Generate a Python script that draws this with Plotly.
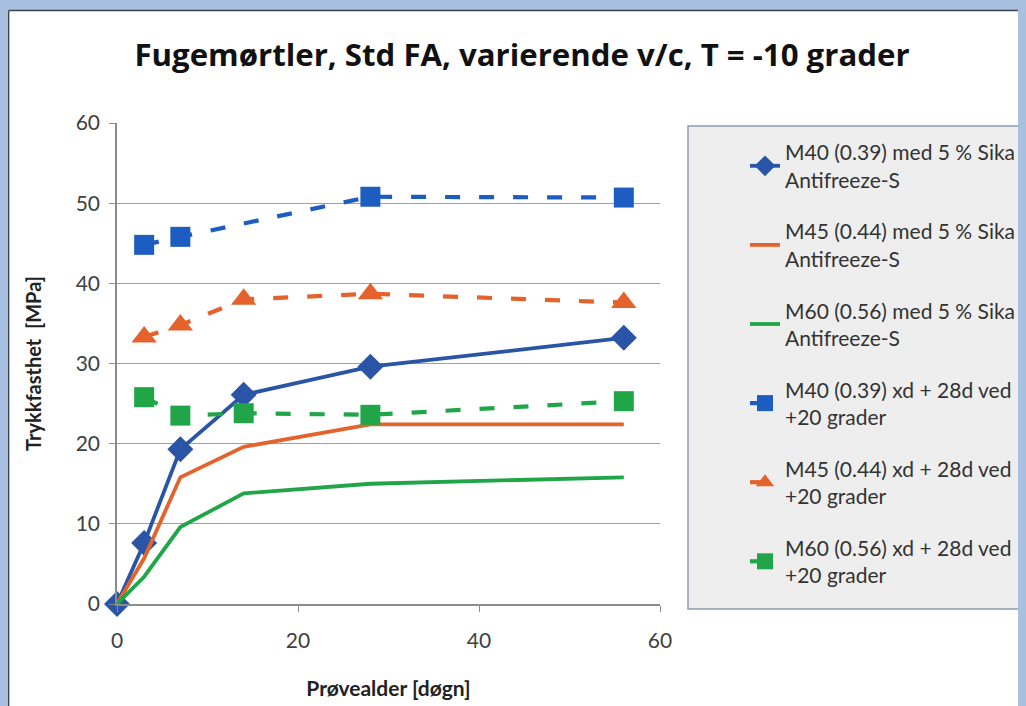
import plotly.graph_objects as go

# alder i døgn og trykkfasthet i MPa, lest av figuren
x_solid = [0, 3, 7, 14, 28, 56]
m40_sika = [0, 7.6, 19.3, 26.1, 29.6, 33.2]
m45_sika = [0, 5.7, 15.8, 19.6, 22.4, 22.4]
m60_sika = [0, 3.4, 9.6, 13.8, 15.0, 15.8]

x_m40_xd = [3, 7, 28, 56]
m40_xd = [44.8, 45.8, 50.8, 50.7]
x_xd = [3, 7, 14, 28, 56]
m45_xd = [33.3, 34.8, 38.0, 38.7, 37.6]
m60_xd = [25.8, 23.5, 23.8, 23.6, 25.3]

names = [
    "M40 (0.39) med 5 % Sika<br>Antifreeze-S",
    "M45 (0.44) med 5 % Sika<br>Antifreeze-S",
    "M60 (0.56) med 5 % Sika<br>Antifreeze-S",
    "M40 (0.39) xd + 28d ved<br>+20 grader",
    "M45 (0.44) xd + 28d ved<br>+20 grader",
    "M60 (0.56) xd + 28d ved<br>+20 grader",
]

BLUE = "#2a55a6"
BLUE2 = "#1d5cc0"
ORANGE = "#e4632c"
GREEN = "#20a548"
FRAME = "#a9bfe0"
FONT = "Lato"

# siden har 8 px marg i body, så alt er flyttet 8 px opp/venstre
OFF = 8
W, H = 1026, 706
L, R, T, B = 117 - OFF, W - 660 + OFF, 123 - OFF, H - 604 + OFF
pw, ph = W - L - R, H - T - B


def px(x):
    return (x - OFF - L) / pw


def py(y):
    return (H - B - (y - OFF)) / ph


fig = go.Figure()
dash = "15px,19px"
fig.add_trace(go.Scatter(x=x_solid, y=m40_sika, name=names[0], mode="lines+markers",
                         line=dict(color=BLUE, width=3.8),
                         marker=dict(symbol="diamond", size=20, color=BLUE)))
fig.add_trace(go.Scatter(x=x_solid, y=m45_sika, name=names[1], mode="lines",
                         line=dict(color=ORANGE, width=3.8)))
fig.add_trace(go.Scatter(x=x_solid, y=m60_sika, name=names[2], mode="lines",
                         line=dict(color=GREEN, width=3.8)))
fig.add_trace(go.Scatter(x=x_m40_xd, y=m40_xd, name=names[3], mode="lines+markers",
                         line=dict(color=BLUE2, width=4.2, dash=dash),
                         marker=dict(symbol="square", size=20, color=BLUE2)))
fig.add_trace(go.Scatter(x=x_xd, y=m45_xd, name=names[4], mode="lines+markers",
                         line=dict(color=ORANGE, width=4.2, dash=dash),
                         marker=dict(symbol="triangle-up", size=22, color=ORANGE)))
fig.add_trace(go.Scatter(x=x_xd, y=m60_xd, name=names[5], mode="lines+markers",
                         line=dict(color=GREEN, width=4.2, dash=dash),
                         marker=dict(symbol="square", size=20, color=GREEN)))

for i, tr in enumerate(fig.data):
    tr.legendgroup = str(i)
    tr.cliponaxis = False

shapes = [
    # legendeboks
    dict(type="rect", xref="paper", yref="paper", layer="below",
         x0=px(688), x1=px(1025), y0=py(609), y1=py(126),
         fillcolor="#eeeeee", line=dict(color="#8d9bb0", width=1.5)),
    # blå ramme rundt lysbildet (resten er body-bakgrunnen)
    dict(type="rect", xref="paper", yref="paper", layer="below",
         x0=px(-20), x1=px(W + 20), y0=py(10), y1=py(-20),
         fillcolor=FRAME, line=dict(width=0)),
    dict(type="line", xref="paper", yref="paper", layer="below",
         x0=px(8.6), x1=px(W + 20), y0=py(10.5), y1=py(10.5),
         line=dict(color="#3b4252", width=1.5)),
    dict(type="line", xref="paper", yref="paper", layer="below",
         x0=px(8.6), x1=px(8.6), y0=py(10.5), y1=py(H + 20),
         line=dict(color="#3b4252", width=1.5)),
]

fig.update_layout(
    width=W, height=H,
    margin=dict(l=L, r=R, t=T, b=B),
    paper_bgcolor="white", plot_bgcolor="white",
    font=dict(family=FONT, color="#404040"),
    title=dict(text="<b>Fugemørtler, Std FA, varierende v/c, T = -10 grader</b>",
               x=px(522), xref="paper", xanchor="center",
               y=1 - (55 - OFF) / H, yanchor="middle",
               font=dict(size=31.2, color="#111111", family="Open Sans")),
    shapes=shapes,
    showlegend=True,
    legend=dict(x=px(745), y=py(132), xanchor="left", yanchor="top",
                bgcolor="rgba(0,0,0,0)", borderwidth=0,
                traceorder="grouped", tracegroupgap=21.5,
                font=dict(size=21, color="#333333", family=FONT)),
)

fig.update_xaxes(range=[0, 60], tickvals=[0, 20, 40, 60], showgrid=False,
                 showline=True, linecolor="#8c8c8c", linewidth=1.5,
                 ticks="outside", ticklen=6, tickcolor="#8c8c8c",
                 ticklabelstandoff=11,
                 tickfont=dict(size=21, color="#404040"),
                 title=dict(text="<b>Prøvealder [døgn]</b>", standoff=30,
                            font=dict(size=21, color="#222222")),
                 zeroline=False)
fig.update_yaxes(range=[0, 60], tickvals=[0, 10, 20, 30, 40, 50, 60],
                 showgrid=True, gridcolor="#a0a0a0", gridwidth=1.3,
                 showline=True, linecolor="#8c8c8c", linewidth=1.5,
                 ticks="outside", ticklen=6, tickcolor="#8c8c8c",
                 ticklabelstandoff=5,
                 tickfont=dict(size=21, color="#404040"),
                 title=dict(text="<b>Trykkfasthet  [MPa]</b>", standoff=29,
                            font=dict(size=20, color="#222222")),
                 zeroline=False)

# body-marginen farges som den blå rammen
fig.write_html("out.html", config={"displayModeBar": False},
               post_script="document.body.style.background='%s';" % FRAME)
